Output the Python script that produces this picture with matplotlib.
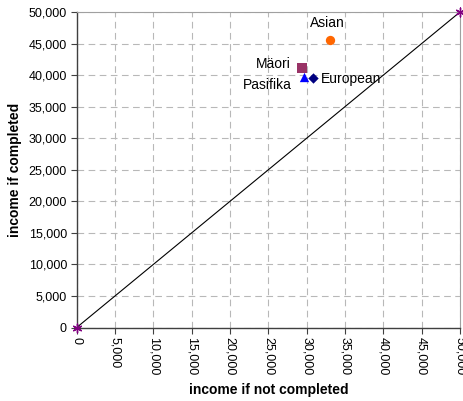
import matplotlib.pyplot as plt
from matplotlib.ticker import FuncFormatter, MultipleLocator

plt.rcParams['font.family'] = ['Liberation Sans', 'DejaVu Sans']

groups = ['Asian', 'Mäori', 'Pasifika', 'European']
not_completed = [33000, 29350, 29650, 30850]
completed = [45500, 41150, 39650, 39550]
colors = ['#FF6600', '#993366', '#0000FF', '#000080']
markers = ['o', 's', '^', 'D']
sizes = [45, 45, 45, 28]

diag_x = [0, 50000]
diag_y = [0, 50000]

fig = plt.figure(figsize=(4.64, 4.01), dpi=100)
ax = fig.add_axes([76.7/464, 73.5/401, 383.3/464, 315.5/401])

ax.plot(diag_x, diag_y, color='black', lw=0.8, zorder=2)
ax.scatter(diag_x, diag_y, marker=(6, 2, 0), color='#800080', s=40, lw=1, zorder=4, clip_on=False)

for g, x, y, c, m, s in zip(groups, not_completed, completed, colors, markers, sizes):
    ax.scatter([x], [y], marker=m, color=c, s=s, zorder=3, lw=0)

# group labels next to the markers
ax.text(30400, 48200, groups[0], fontsize=10, ha='left', va='center')
ax.text(27900, 41700, groups[1], fontsize=10, ha='right', va='center')
ax.text(28100, 38500, groups[2], fontsize=10, ha='right', va='center')
ax.text(31800, 39450, groups[3], fontsize=10, ha='left', va='center')

ax.set_xlim(0, 50000)
ax.set_ylim(0, 50000)
ax.xaxis.set_major_locator(MultipleLocator(5000))
ax.yaxis.set_major_locator(MultipleLocator(5000))
fmt = FuncFormatter(lambda v, p: f'{int(v):,}')
ax.xaxis.set_major_formatter(fmt)
ax.yaxis.set_major_formatter(fmt)
ax.tick_params(axis='both', labelsize=9, direction='out', length=4, width=0.8, color='#404040', pad=3)
plt.setp(ax.get_xticklabels(), rotation=270)

ax.grid(True, color='#b8b8b8', linestyle=(0, (6, 4)), lw=0.8)
ax.set_axisbelow(True)
for side in ['top', 'right']:
    ax.spines[side].set_color('#a0a0a0')
for side in ['left', 'bottom']:
    ax.spines[side].set_color('#404040')
    ax.spines[side].set_linewidth(1.0)

ax.set_xlabel('income if not completed', fontsize=10, fontweight='bold', labelpad=5)
ax.set_ylabel('income if completed', fontsize=10, fontweight='bold', labelpad=5)

fig.savefig('out.png', dpi=100)
